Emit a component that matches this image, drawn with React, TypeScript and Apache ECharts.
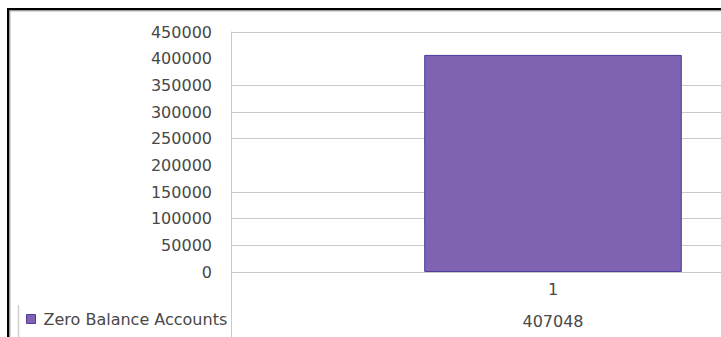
import React, { useEffect, useRef } from "react";
import * as echarts from "echarts";

// Single-category bar with an Excel-style data table row underneath
const categories = ["1"];
const seriesName = "Zero Balance Accounts";
const seriesValues = [407048];
const yTicks = { min: 0, max: 450000, step: 50000 };
// Horizontal gridlines that are drawn (200000 and 400000 are left out)
const gridLineValues = [0, 50000, 100000, 150000, 250000, 300000, 350000, 450000];

const FONT = "DejaVu Sans";
const FONT_SIZE = 16;
const TEXT = "#484848";
const GRID_LINE = "#c9c9c5";
const BAR = "#7f62b1";
const BAR_EDGE = "#4b3c9e";

// The plot runs past the right edge of the visible frame
const VIEW_W = 721;
const VIEW_H = 337;
const CHART_W = 875;

export default function App() {
  const ref = useRef<HTMLDivElement>(null);

  useEffect(() => {
    if (!ref.current) return;
    const chart = echarts.init(ref.current, null, { renderer: "svg" });
    const label = { fontFamily: FONT, fontSize: FONT_SIZE, color: TEXT };
    chart.setOption({
      animation: false,
      backgroundColor: "#ffffff",
      grid: { left: 231, top: 32, width: 644, height: 240 },
      legend: {
        left: 26,
        top: 311,
        padding: 0,
        itemWidth: 9,
        itemHeight: 9,
        icon: "rect",
        itemStyle: { borderColor: BAR_EDGE, borderWidth: 1 },
        textStyle: { ...label, padding: [0, 0, 0, 3] },
        data: [seriesName],
        selectedMode: false,
      },
      xAxis: [
        {
          type: "category",
          data: categories,
          position: "bottom",
          axisLine: { show: false },
          axisTick: { show: false },
          axisLabel: { ...label, margin: 9 },
        },
        {
          // data table values row
          type: "category",
          data: seriesValues.map((v) => String(v)),
          position: "bottom",
          offset: 32,
          axisLine: { show: false },
          axisTick: { show: false },
          axisLabel: { ...label, margin: 9 },
        },
      ],
      yAxis: {
        type: "value",
        min: yTicks.min,
        max: yTicks.max,
        interval: yTicks.step,
        axisLine: { show: true, lineStyle: { color: GRID_LINE, width: 1 } },
        axisTick: { show: false },
        axisLabel: { ...label, margin: 19, formatter: (v: number) => String(v) },
        splitLine: { show: false },
      },
      series: [
        {
          name: seriesName,
          type: "bar",
          data: seriesValues,
          barWidth: "40%",
          itemStyle: { color: BAR, borderColor: BAR_EDGE, borderWidth: 1 },
          markLine: {
            silent: true,
            z: 1,
            symbol: ["none", "none"],
            label: { show: false },
            lineStyle: { color: GRID_LINE, width: 1, type: "solid" },
            data: gridLineValues.map((v) => ({ yAxis: v })),
          },
        },
      ],
      graphic: [
        // value axis line carried down through the data table
        { type: "line", shape: { x1: 231.5, y1: 272, x2: 231.5, y2: VIEW_H }, style: { stroke: GRID_LINE, lineWidth: 1 } },
        // data table left edge
        { type: "line", shape: { x1: 18.5, y1: 305, x2: 18.5, y2: VIEW_H }, style: { stroke: "#cfcfcb", lineWidth: 1.5 } },
        // frame: dark outer edge with a soft grey inner edge
        { type: "rect", shape: { x: 7, y: 8, width: CHART_W, height: 2.5 }, style: { fill: "#000000" } },
        { type: "rect", shape: { x: 7, y: 8, width: 2.5, height: VIEW_H }, style: { fill: "#000000" } },
        { type: "rect", shape: { x: 9.5, y: 10.5, width: CHART_W, height: 1 }, style: { fill: "#b5b5b0" } },
        { type: "rect", shape: { x: 9.5, y: 10.5, width: 1, height: VIEW_H }, style: { fill: "#b5b5b0" } },
      ],
    });
    return () => chart.dispose();
  }, []);

  return (
    <div
      style={{ position: "absolute", left: 0, top: 0, width: VIEW_W, height: VIEW_H, overflow: "hidden", background: "#fff" }}
    >
      <div ref={ref} style={{ width: CHART_W, height: VIEW_H }} />
    </div>
  );
}
